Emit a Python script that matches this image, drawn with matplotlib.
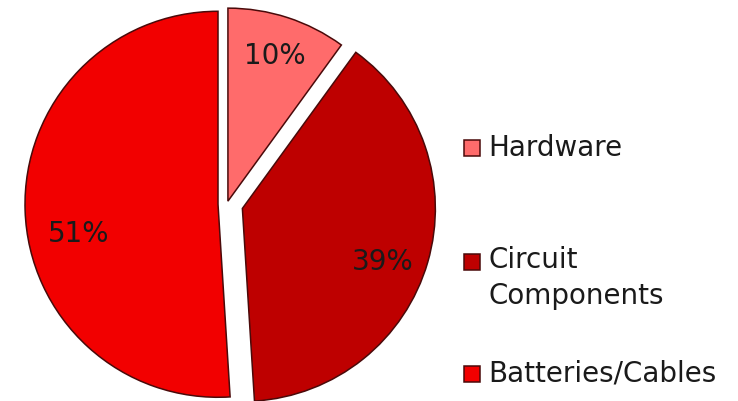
import matplotlib
matplotlib.use("Agg")
import matplotlib.pyplot as plt
from matplotlib.patches import Rectangle
import numpy as np

categories = ["Hardware", "Circuit Components", "Batteries/Cables"]
legend_labels = ["Hardware", "Circuit\nComponents", "Batteries/Cables"]
values = [10, 39, 51]
colors = ["#FF6B6B", "#BE0000", "#F20000"]
explode_px = [3, 16, 9]
edge = "#4a0a0a"

W, H = 738, 401
fig = plt.figure(figsize=(W / 100, H / 100), dpi=100)
ax = fig.add_axes([0, 0, 1, 1])
ax.set_axis_off()

R = 193
center = (227, H - 204)
wedges, texts, autotexts = ax.pie(
    values, colors=colors, startangle=90, counterclock=False,
    explode=explode_px, radius=R, center=center,
    autopct="%1.0f%%", pctdistance=0.78,
    wedgeprops=dict(edgecolor=edge, linewidth=1.1),
    textprops=dict(fontsize=20, color="#1a1a1a"),
)
# fine-tune label placement relative to each wedge's own center
label_polar = [(0.79, 72), (0.78, -21), (0.74, 192)]
for w, t, (d, a) in zip(wedges, autotexts, label_polar):
    cx, cy = w.center
    t.set_position((cx + d * R * np.cos(np.radians(a)), cy + d * R * np.sin(np.radians(a))))
    t.set_ha("center"); t.set_va("center")

ax.set_xlim(0, W)
ax.set_ylim(0, H)
ax.set_aspect("equal")

# legend
leg_y = [148, 262, 374]
sq = 16
for lab, col, y in zip(legend_labels, colors, leg_y):
    ax.add_patch(Rectangle((464, H - y - sq / 2), sq, sq, facecolor=col,
                           edgecolor=edge, linewidth=1.1, clip_on=False))
    if "\n" in lab:
        ax.text(488, H - y + 16, lab, fontsize=20, color="#1a1a1a", va="top",
                ha="left", linespacing=1.35)
    else:
        ax.text(488, H - y, lab, fontsize=20, color="#1a1a1a", va="center", ha="left")

fig.savefig("out.png", dpi=100)
